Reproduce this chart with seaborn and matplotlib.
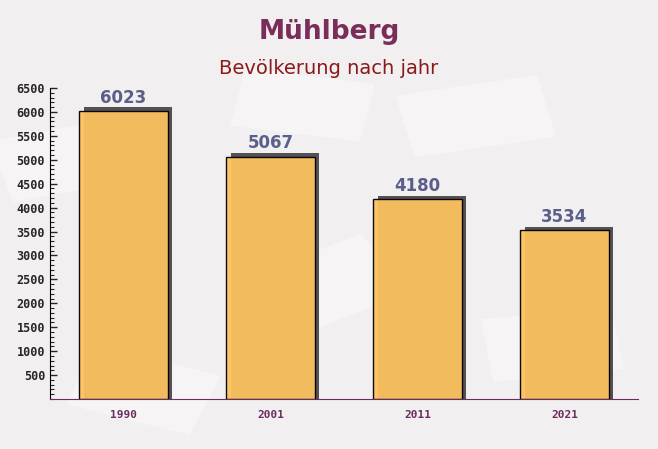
import matplotlib
matplotlib.use("Agg")
import matplotlib.pyplot as plt
from matplotlib.patches import Rectangle
from matplotlib.ticker import MultipleLocator
import seaborn as sns
import pandas as pd

years = ["1990", "2001", "2011", "2021"]
population = [6023, 5067, 4180, 3534]

df = pd.DataFrame({"year": years, "population": population})

sns.set_style("white")
plt.rcParams['font.family'] = ['DejaVu Sans']

fig = plt.figure(figsize=(6.58, 4.49), dpi=100)
fig.patch.set_facecolor('#f2eff1')

# faint decorative background patches (envelopes)
for (x, y, w, h, ang) in [(0.02, 0.55, 0.2, 0.14, 15), (0.35, 0.72, 0.2, 0.13, -10),
                          (0.63, 0.65, 0.22, 0.14, 12), (0.45, 0.25, 0.2, 0.15, 30),
                          (0.1, 0.1, 0.2, 0.14, -20), (0.75, 0.15, 0.2, 0.14, 8)]:
    fig.patches.append(Rectangle((x, y), w, h, angle=ang, transform=fig.transFigure,
                                 facecolor='white', alpha=0.35, edgecolor='none', zorder=-5))

ax = fig.add_axes([50 / 658, 1 - 399 / 449, 588 / 658, 311 / 449])
ax.set_zorder(1)
ax.set_facecolor((1, 1, 1, 0))

# shadows
for i, v in enumerate(population):
    ax.add_patch(Rectangle((i - 0.3 + 0.03, 0), 0.6, v + 70, facecolor='#555055',
                           edgecolor='none', zorder=1))

sns.barplot(data=df, x="year", y="population", color='#fcc25e', width=0.6,
            edgecolor='black', linewidth=1, saturation=1, alpha=0.95, ax=ax, zorder=2)

for i, v in enumerate(population):
    ax.text(i, v + 90, f"{v}", ha='center', va='bottom', fontsize=12,
            fontweight='bold', color='#5a5f8a', zorder=3)

ax.set_xlim(-0.5, 3.5)
ax.set_ylim(0, 6500)
ax.set_yticks(range(500, 6501, 500))
ax.yaxis.set_minor_locator(MultipleLocator(100))
ax.tick_params(axis='y', which='major', length=5, width=1, direction='in', left=True)
ax.tick_params(axis='y', which='minor', length=3, width=0.8, direction='in', left=True)
for lab in ax.get_yticklabels():
    lab.set_fontweight('bold')
    lab.set_fontfamily('DejaVu Sans Mono')
    lab.set_fontsize(8.5)
ax.set_xticks(range(len(years)))
ax.set_xticklabels(years, fontsize=8, fontweight='bold', color='#6b2d5c',
                   fontfamily='DejaVu Sans Mono')
ax.tick_params(axis='x', which='major', length=0, pad=8)
ax.set_xticks([0.5, 1.5, 2.5, 3.5], minor=True)
ax.tick_params(axis='x', which='minor', length=5, direction='in', color='#6b2d5c')

ax.set_xlabel("")
ax.set_ylabel("")
for s in ['top', 'right']:
    ax.spines[s].set_visible(False)
ax.spines['left'].set_color('black')
ax.spines['bottom'].set_color('#6b2d5c')

fig.text(0.5, 1 - 32 / 449, "Mühlberg", ha='center', va='center', fontsize=19,
         fontweight='bold', color='#7b2d5a')
fig.text(0.5, 1 - 69 / 449, "Bevölkerung nach jahr", ha='center', va='center',
         fontsize=14, color='#8b1a1a')

fig.savefig("out.png", dpi=100, facecolor=fig.get_facecolor())
